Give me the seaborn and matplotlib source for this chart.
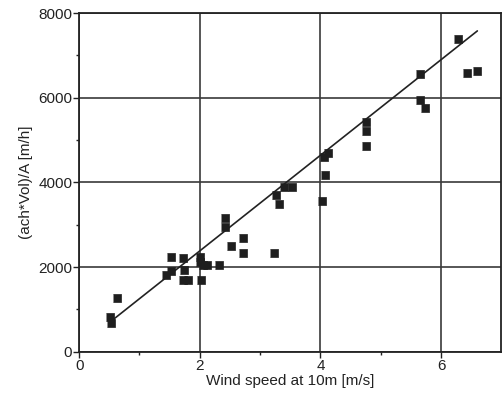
import matplotlib
matplotlib.use("Agg")
import matplotlib.pyplot as plt
import seaborn as sns
import pandas as pd

wind = [0.51, 0.52, 0.62, 1.44, 1.53, 1.53, 1.72, 1.73, 1.72, 1.80,
        2.02, 2.01, 2.00, 2.06, 2.12, 2.31, 2.42, 2.42, 2.52, 2.71,
        2.71, 3.23, 3.26, 3.32, 3.39, 3.53, 4.02, 4.08, 4.06, 4.13,
        4.75, 4.75, 4.75, 5.65, 5.65, 5.74, 6.28, 6.43, 6.60]
flow = [820, 690, 1260, 1810, 1920, 2250, 2210, 1930, 1700, 1700,
        1700, 2240, 2130, 2040, 2040, 2040, 3160, 2940, 2510, 2700,
        2340, 2340, 3710, 3490, 3900, 3900, 3560, 4180, 4610, 4700,
        5430, 5210, 4850, 6560, 5960, 5770, 7400, 6590, 6640]

# fitted line end points
fit_x = [0.5, 6.6]
fit_y = [690, 7580]

x_ticks = [0, 2, 4, 6]
y_ticks = [0, 2000, 4000, 6000, 8000]

df = pd.DataFrame({"wind": wind, "flow": flow})

sns.set_style("whitegrid", {"grid.color": "#333333", "axes.edgecolor": "#222222"})
plt.rcParams["font.family"] = ["Liberation Sans", "DejaVu Sans"]

fig = plt.figure(figsize=(5.04, 3.98), dpi=100)
ax = fig.add_axes([0.157, 0.116, 0.838, 0.851])

# squares a bit wider than tall, like the scan
sns.scatterplot(data=df, x="wind", y="flow", marker=[(-1.2, -1), (1.2, -1), (1.2, 1), (-1.2, 1)],
                s=40, color="#1e1e1e", edgecolor="#1e1e1e", linewidth=0.5, ax=ax, zorder=3)
sns.lineplot(x=fit_x, y=fit_y, color="#222222", linewidth=1.2, ax=ax, zorder=2)

ax.set_xlim(0, 7)
ax.set_ylim(0, 8000)
ax.set_xticks(x_ticks)
ax.set_yticks(y_ticks)
ax.set_xticks([1, 3, 5], minor=True)
ax.set_yticks([1000, 3000, 5000, 7000], minor=True)
ax.grid(True, which="major", color="#3a3a3a", linewidth=1.2)
ax.grid(False, which="minor")
ax.tick_params(which="major", direction="out", length=4, width=1, color="#222222",
               labelsize=11, labelcolor="#222222", bottom=True, left=True, pad=1)
ax.tick_params(which="minor", direction="out", length=2.5, width=1, color="#222222",
               bottom=True, left=True)
for s in ax.spines.values():
    s.set_linewidth(1.3)
    s.set_color("#222222")

ax.set_xlabel("Wind speed at 10m [m/s]", fontsize=11, color="#222222", labelpad=1)
ax.set_ylabel("(ach*Vol)/A [m/h]", fontsize=11, color="#222222", labelpad=4)

fig.savefig("out.png", dpi=100)
